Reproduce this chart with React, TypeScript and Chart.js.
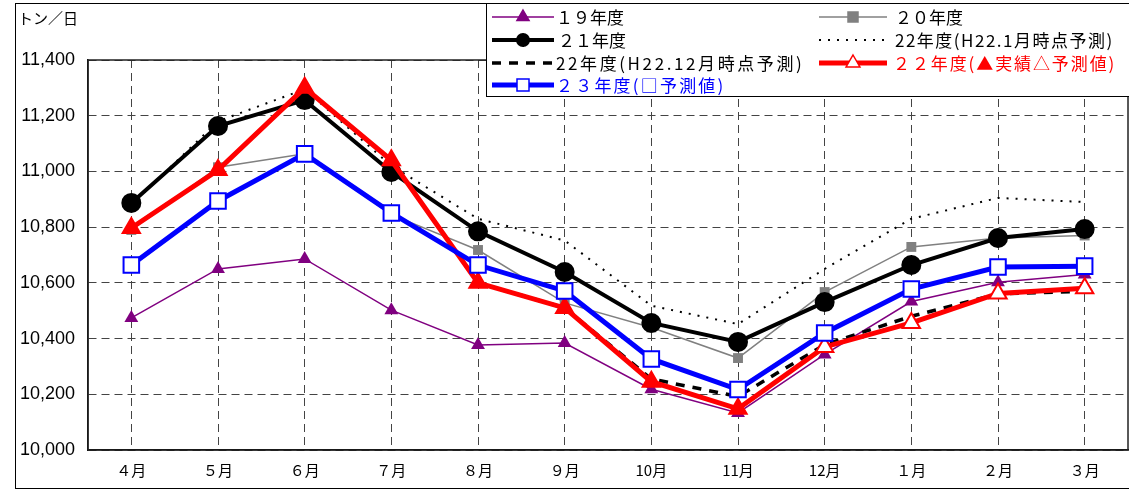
import React, { useEffect, useRef } from "react";
import { Chart, registerables } from "chart.js";

Chart.register(...registerables);

const months = ["４月", "５月", "６月", "７月", "８月", "９月", "10月", "11月", "12月", "１月", "２月", "３月"];
const yTickMin = 10000;
const yTickMax = 11400;
const yTickStep = 200;

const fy19 = [10474, 10650, 10686, 10502, 10377, 10384, 10218, 10133, 10343, 10533, 10602, 10630];
const fy20 = [10790, 11015, 11063, 10845, 10718, 10528, 10440, 10330, 10567, 10729, 10761, 10770];
const fy21 = [10887, 11163, 11256, 10998, 10785, 10639, 10456, 10388, 10531, 10664, 10761, 10793];
const fy22Jan = [10880, 11180, 11295, 11020, 10830, 10752, 10518, 10452, 10650, 10830, 10905, 10890];
const fy22Dec = [10797, 11005, 11300, 11040, 10600, 10510, 10255, 10192, 10378, 10480, 10560, 10570];
const fy22 = [10797, 11005, 11300, 11040, 10600, 10510, 10245, 10148, 10370, 10456, 10562, 10581];
const fy22Actual = [true, true, true, true, true, true, true, true, false, false, false, false];
const fy23 = [10664, 10894, 11063, 10851, 10664, 10571, 10327, 10217, 10420, 10578, 10657, 10660];

const FONT_JP = '"Noto Sans CJK JP", "Noto Sans", sans-serif';
const VIEW_W = 1129;
const VIEW_H = 493;
const PLOT_RIGHT = 1128;

type SwatchProps = {
  color: string;
  width: number;
  dash?: string;
  marker?: "triangle" | "square" | "circle" | "none";
  fill?: string;
  size?: number;
  w?: number;
};

function Swatch({ color, width, dash, marker = "none", fill, size = 6, w = 62 }: SwatchProps) {
  const cx = w / 2;
  const cy = 10;
  let m: React.ReactNode = null;
  if (marker === "triangle") {
    const r = size;
    const pts = `${cx},${cy - r} ${cx + r * 0.866},${cy + r * 0.5} ${cx - r * 0.866},${cy + r * 0.5}`;
    m = <polygon points={pts} fill={fill ?? color} stroke={color} strokeWidth={1.5} />;
  } else if (marker === "square") {
    m = <rect x={cx - size} y={cy - size} width={size * 2} height={size * 2} fill={fill ?? color} stroke={color} strokeWidth={1.5} />;
  } else if (marker === "circle") {
    m = <circle cx={cx} cy={cy} r={size} fill={fill ?? color} />;
  }
  return (
    <svg width={w} height={20} style={{ display: "block" }}>
      <line x1={0} y1={cy} x2={w} y2={cy} stroke={color} strokeWidth={width} strokeDasharray={dash} />
      {m}
    </svg>
  );
}

function LegendItem({ x, y, sw, text, color, swW = 62, ls = 0, gap = 2 }: { x: number; y: number; sw: React.ReactNode; text: string; color: string; swW?: number; ls?: number; gap?: number }) {
  return (
    <div style={{ position: "absolute", left: x, top: y - 10, height: 20, display: "flex", alignItems: "center", whiteSpace: "nowrap" }}>
      <div style={{ width: swW }}>{sw}</div>
      <span style={{ marginLeft: gap, fontFamily: FONT_JP, fontSize: 17, color, lineHeight: "20px", letterSpacing: ls }}>{text}</span>
    </div>
  );
}

function makeConfig(): any {
  const frameRect = {
    id: "frameRect",
    beforeDatasetsDraw(chart: any) {
      const { ctx, chartArea: a } = chart;
      ctx.save();
      ctx.strokeStyle = "#222";
      ctx.lineWidth = 1.5;
      ctx.strokeRect(a.left, a.top, a.right - a.left, a.bottom - a.top);
      ctx.restore();
    },
  };
  return {
    type: "line",
    data: {
      labels: months,
      datasets: [
        {
          label: "23年度(□予測値)",
          data: fy23,
          borderColor: "#0000ff",
          borderWidth: 5,
          pointStyle: "rect",
          pointRadius: 11,
          pointBackgroundColor: "#ffffff",
          pointBorderColor: "#0000ff",
          pointBorderWidth: 2,
          order: 0,
        },
        {
          label: "22年度(▲実績△予測値)",
          data: fy22,
          borderColor: "#ff0000",
          borderWidth: 5,
          pointStyle: "triangle",
          pointRadius: 10,
          pointBackgroundColor: fy22Actual.map((a) => (a ? "#ff0000" : "#ffffff")),
          pointBorderColor: "#ff0000",
          pointBorderWidth: 2,
          order: 1,
        },
        {
          label: "22年度(H22.12月時点予測)",
          data: fy22Dec,
          borderColor: "#000000",
          borderWidth: 3.5,
          borderDash: [9, 8],
          pointRadius: 0,
          order: 2,
        },
        {
          label: "22年度(H22.1月時点予測)",
          data: fy22Jan,
          borderColor: "#000000",
          borderWidth: 2,
          borderDash: [2, 7],
          pointRadius: 0,
          order: 3,
        },
        {
          label: "21年度",
          data: fy21,
          borderColor: "#000000",
          borderWidth: 4,
          pointStyle: "circle",
          pointRadius: 8,
          pointBackgroundColor: "#000000",
          pointBorderColor: "#000000",
          order: 4,
        },
        {
          label: "20年度",
          data: fy20,
          borderColor: "#808080",
          borderWidth: 1.5,
          pointStyle: "rect",
          pointRadius: 7,
          pointBackgroundColor: "#808080",
          pointBorderColor: "#808080",
          pointBorderWidth: 0,
          order: 5,
        },
        {
          label: "19年度",
          data: fy19,
          borderColor: "#800080",
          borderWidth: 1.5,
          pointStyle: "triangle",
          pointRadius: 8,
          pointBackgroundColor: "#800080",
          pointBorderColor: "#800080",
          pointBorderWidth: 0,
          order: 6,
        },
      ],
    },
    options: {
      animation: false,
      responsive: false,
      maintainAspectRatio: false,
      layout: { padding: { top: 60, right: 0, left: 0, bottom: 0 } },
      plugins: { legend: { display: false }, tooltip: { enabled: false } },
      scales: {
        x: {
          offset: true,
          grid: { color: "#444", lineWidth: 1, drawTicks: true, tickLength: 11, tickColor: "rgba(0,0,0,0)" },
          border: { display: true, color: "#000", width: 1.5, dash: [8, 5] },
          ticks: { padding: 0, color: "#000", font: { family: FONT_JP, size: 15 }, maxRotation: 0, autoSkip: false },
          afterFit(s: any) {
            s.height = 43;
            s.paddingLeft = 0;
            s.paddingRight = 0;
          },
        },
        y: {
          min: yTickMin,
          max: yTickMax,
          grid: { color: "#444", lineWidth: 1, drawTicks: false },
          border: { display: true, color: "#000", width: 1.5, dash: [8, 5] },
          ticks: {
            stepSize: yTickStep,
            padding: 13,
            color: "#000",
            font: { family: '"Liberation Sans", Arial, sans-serif', size: 18 },
            callback: (v: any) => Number(v).toLocaleString("en-US"),
          },
          afterFit(s: any) {
            s.width = 88;
          },
        },
      },
    },
    plugins: [frameRect],
  };
}

export default function App() {
  const ref = useRef<HTMLCanvasElement>(null);

  useEffect(() => {
    document.body.style.margin = "0";
    const canvas = ref.current;
    if (!canvas) return;
    let chart = new Chart(canvas, makeConfig());
    const diff = Math.round(PLOT_RIGHT - chart.chartArea.right);
    if (diff !== 0) {
      chart.destroy();
      canvas.width = VIEW_W + diff;
      canvas.height = VIEW_H;
      canvas.style.width = `${VIEW_W + diff}px`;
      canvas.style.height = `${VIEW_H}px`;
      chart = new Chart(canvas, makeConfig());
    }
    return () => chart.destroy();
  }, []);

  return (
    <div style={{ position: "absolute", left: 0, top: 0, width: VIEW_W, height: VIEW_H, background: "#fff", overflow: "hidden" }}>
      <canvas ref={ref} width={VIEW_W} height={VIEW_H} style={{ position: "absolute", left: 0, top: 0, display: "block" }} />
      <div style={{ position: "absolute", left: 15, top: 3, width: 1130, height: 486, border: "1.5px solid #000", boxSizing: "border-box", pointerEvents: "none" }} />
      <div style={{ position: "absolute", left: 18, top: 7, fontFamily: FONT_JP, fontSize: 15, color: "#000" }}>トン／日</div>
      <div style={{ position: "absolute", left: 486, top: 3, width: 650, height: 94, border: "1.5px solid #000", boxSizing: "border-box", background: "#fff" }} />
      <LegendItem x={492} y={17} color="#000" sw={<Swatch color="#800080" width={1.5} marker="triangle" size={7} />} text="１９年度" />
      <LegendItem x={819} y={17} color="#000" gap={8} sw={<Swatch color="#808080" width={1.5} marker="square" size={5} w={68} />} swW={68} text="２０年度" />
      <LegendItem x={492} y={40} color="#000" gap={4} sw={<Swatch color="#000" width={4} marker="circle" size={7} />} text="２１年度" />
      <LegendItem x={819} y={40} color="#000" gap={8} ls={1.5} sw={<Swatch color="#000" width={2} dash="2 7" w={68} />} swW={68} text="22年度(H22.1月時点予測)" />
      <LegendItem x={492} y={63} color="#000" ls={2.6} sw={<Swatch color="#000" width={3.5} dash="9 8" />} text="22年度(H22.12月時点予測)" />
      <LegendItem x={819} y={63} color="#ff0000" gap={6} ls={1.9} sw={<Swatch color="#ff0000" width={5} marker="triangle" size={8} fill="#fff" w={68} />} swW={68} text="２２年度(▲実績△予測値)" />
      <LegendItem x={492} y={85} color="#0000ff" ls={2.2} sw={<Swatch color="#0000ff" width={5} marker="square" size={6} fill="#fff" />} text="２３年度(□予測値)" />
    </div>
  );
}
